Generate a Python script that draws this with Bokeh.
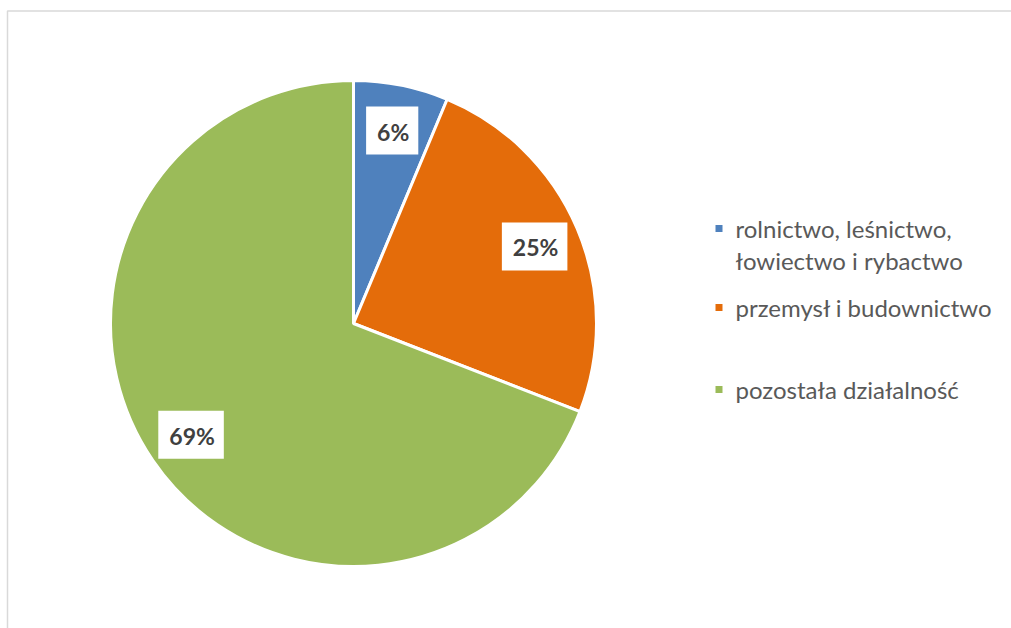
import math
from bokeh.plotting import figure
from bokeh.models import Range1d, ColumnDataSource
from bokeh.core.properties import value
from bokeh.embed import file_html
from bokeh.resources import INLINE

# ---- data ----
categories = ["rolnictwo, leśnictwo,\nłowiectwo i rybactwo",
              "przemysł i budownictwo",
              "pozostała działalność"]
shares = [6.3, 24.6, 69.1]
colors = ["#4F81BD", "#E46C0A", "#9BBB59"]

# ---- layout (pixels) ----
W, H = 1011, 628
def fy(page_y):
    return H - page_y
def fx(page_x):
    return page_x

cx, cy = fx(353), fy(323)
R = 243

p = figure(width=W, height=H, output_backend="svg", toolbar_location=None,
           x_range=Range1d(0, W), y_range=Range1d(0, H),
           min_border=0, outline_line_color=None)
p.axis.visible = False
p.grid.visible = False
p.background_fill_color = "white"
p.border_fill_color = "white"

# chart frame
p.line(x=[fx(7), fx(7), W], y=[0, fy(10.5), fy(10.5)], line_color="#D9D9D9", line_width=1.5)

total = sum(shares)
starts, ends, mids = [], [], []
cum = 0.0
for s in shares:
    a0 = math.pi / 2 - 2 * math.pi * cum / total
    cum += s
    a1 = math.pi / 2 - 2 * math.pi * cum / total
    starts.append(a0)
    ends.append(a1)
    mids.append((a0 + a1) / 2)

src = ColumnDataSource(dict(x=[cx] * 3, y=[cy] * 3, start=starts, end=ends, color=colors))
p.wedge(x="x", y="y", radius=R, start_angle="start", end_angle="end",
        direction="clock", fill_color="color", line_color="white", line_width=3,
        source=src)

# data labels
lr = 0.81 * R
lab = ColumnDataSource(dict(
    x=[cx + lr * math.cos(m) for m in mids],
    y=[cy + lr * math.sin(m) for m in mids],
    t=[f"{round(s)}%" for s in shares]))
p.text(x="x", y="y", text="t", source=lab, text_align="center", text_baseline="middle",
       text_font=value("Lato"), text_font_style="bold", text_font_size="23px",
       text_color="#404040", background_fill_color="white", padding=(11, 9, 11, 9))

# legend
leg_sq_y = [fy(228), fy(307), fy(389)]
p.rect(x=[fx(718.5)] * 3, y=leg_sq_y, width=7, height=7, fill_color=colors, line_color=None)
lx, ly, lt = [], [], []
for cat, y0 in zip(categories, leg_sq_y):
    for k, line in enumerate(cat.split("\n")):
        lx.append(fx(735))
        ly.append(y0 - 32 * k)
        lt.append(line)
p.text(x=lx, y=ly, text=lt, text_align="left",
       text_baseline="middle", text_font=value("Lato"), text_font_size="24px",
       text_color="#595959")

open("out.html", "w").write(file_html(p, INLINE))
